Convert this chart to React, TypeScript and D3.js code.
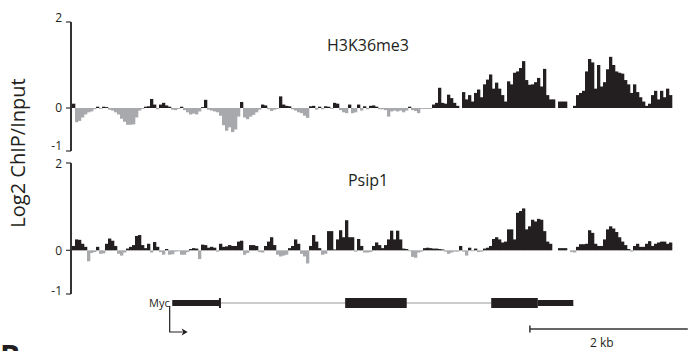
import React from "react";
import * as d3 from "d3";

// Log2 ChIP/Input, one value per genomic bin (200 bins across the locus)
const h3k36me3: number[] = [
  0.1, -0.33, -0.3, -0.22, -0.15, -0.1, -0.08, -0.03, 0.03, -0.02,
  0.03, 0.02, -0.04, -0.06, -0.1, -0.15, -0.25, -0.32, -0.39, -0.39,
  -0.38, -0.22, -0.06, -0.02, 0.03, 0.04, 0.21, 0.08, -0.03, 0.08,
  0.12, 0.06, 0.03, -0.04, -0.05, -0.02, 0.03, -0.05, -0.1, -0.15,
  -0.13, -0.15, -0.08, 0.02, 0.19, -0.04, -0.06, -0.08, -0.1, -0.18,
  -0.4, -0.53, -0.45, -0.56, -0.5, -0.2, 0.14, -0.22, -0.26, -0.2,
  -0.16, -0.1, -0.04, 0.08, 0.06, -0.03, -0.07, -0.04, -0.02, 0.27,
  0.08, 0.05, 0.04, -0.03, -0.06, -0.1, -0.12, -0.18, -0.23, 0.04,
  0.05, -0.04, 0.03, -0.03, 0.04, 0.03, -0.02, 0.12, 0.1, -0.05,
  -0.1, -0.12, 0.08, -0.12, -0.1, 0.08, -0.06, 0.04, -0.03, 0.05,
  0.06, 0.03, -0.03, -0.03, -0.05, -0.2, -0.08, -0.06, -0.08, -0.06,
  -0.1, -0.06, 0.03, -0.05, -0.07, -0.12, -0.02, -0.02, -0.02, -0.02,
  0.08, 0.12, 0.47, 0.12, 0.1, 0.31, 0.23, 0.12, 0.05, 0,
  0.37, 0.2, 0.3, 0.15, 0.35, 0.43, 0.25, 0.55, 0.66, 0.78,
  0.45, 0.59, 0.45, 0.3, 0.15, 0.62, 0.55, 0.82, 0.85, 0.93,
  1.09, 0.65, 0.54, 0.55, 0.6, 0.7, 0.5, 0.91, 0.3, 0.2,
  0.2, 0, 0.15, 0.15, 0.15, 0, 0, 0.05, 0.3, 0.35,
  0.4, 0.85, 1.14, 1.06, 0.45, 1.0, 0.5, 0.6, 0.9, 1.19,
  1.0, 0.85, 0.82, 0.8, 0.65, 0.55, 0.35, 0.55, 0.37, 0.25,
  0.15, 0.05, 0.1, 0.3, 0.4, 0.2, 0.4, 0.25, 0.45, 0.3,
];

const psip1: number[] = [
  0.1, 0.25, 0.24, 0.15, 0.08, -0.25, -0.06, -0.04, 0.08, -0.08,
  -0.07, 0.15, 0.27, 0.22, 0.1, -0.08, -0.12, -0.05, 0.04, 0.08,
  0.12, 0.33, 0.35, 0.12, 0.05, 0.15, -0.05, 0.19, 0.08, -0.04,
  -0.1, 0.03, -0.1, -0.09, -0.03, -0.02, -0.1, -0.1, -0.04, 0.03,
  0.05, 0.04, -0.2, 0.13, 0.12, 0.06, 0.08, 0.06, -0.03, 0.15,
  0.08, 0.09, 0.12, 0.1, 0.1, 0.2, 0.22, -0.1, -0.06, 0.12,
  0.12, 0.1, -0.04, -0.05, 0.1, 0.2, 0.3, 0.12, -0.1, -0.14,
  -0.12, -0.1, 0.05, 0.1, 0.25, 0.15, -0.08, -0.14, -0.3, 0.1,
  0.35, 0.2, 0.05, -0.1, -0.08, 0.44, 0.44, 0.02, 0.25, 0.46,
  0.3, 0.69, 0.3, 0.3, -0.03, 0.26, 0.1, -0.05, -0.05, -0.04,
  0.1, 0.18, 0.12, 0.05, 0.12, 0.25, 0.45, 0.25, 0.45, 0.25,
  0.04, 0.03, -0.02, -0.15, -0.17, -0.05, -0.03, 0.05, 0.06, 0.05,
  0.04, 0.04, 0.03, 0.02, -0.03, -0.08, -0.05, -0.03, -0.03, 0.1,
  -0.03, -0.12, 0.06, -0.02, 0.04, -0.04, -0.03, 0.04, 0.06, 0.1,
  0.26, 0.3, 0.25, 0.18, 0.2, 0.48, 0.48, 0.25, 0.86, 0.9,
  0.96, 0.48, 0.55, 0.7, 0.66, 0.72, 0.7, 0.44, 0.2, 0.15,
  0, 0, 0.05, 0.05, 0.05, 0, -0.04, -0.05, 0.08, 0.14,
  0.14, 0.15, 0.46, 0.4, 0.15, 0.1, 0.1, 0.25, 0.48, 0.55,
  0.5, 0.42, 0.3, 0.2, 0.12, 0.03, -0.03, 0.1, 0.15, 0.08,
  0.08, 0.15, 0.21, 0.1, 0.15, 0.18, 0.2, 0.2, 0.15, 0.18,
];

const trackNames = ["H3K36me3", "Psip1"];
const yTicks = [2, 0, -1];
const locusKb = 7.6;

// Myc gene model (kb from left edge of locus)
const intron = [1.27, 5.31];
const exons = [
  { start: 1.27, end: 1.88, kind: "utr" },
  { start: 3.46, end: 4.24, kind: "cds" },
  { start: 5.31, end: 5.9, kind: "cds" },
  { start: 5.9, end: 6.35, kind: "utr" },
];
const exon1CapKb = 1.88;
const tssKb = 1.25;
const scaleBar = { start: 5.8, length: 2, label: "2 kb" };

const POS = "#231f20";
const NEG = "#a7a9ac";
const FONT = "'Open Sans', 'Noto Sans', sans-serif";

export default function App() {
  const W = 688;
  const H = 351;
  const x = d3.scaleLinear().domain([0, locusKb]).range([72, 672]);
  const binKb = locusKb / h3k36me3.length;

  const tracks = [
    {
      name: trackNames[0],
      data: h3k36me3,
      y: d3.scaleLinear().domain([-1, 2]).range([151, 22]),
      titleY: 51,
      labelShift: { "2": -4.5, "0": 0, "-1": -5.5 } as Record<string, number>,
    },
    {
      name: trackNames[1],
      data: psip1,
      y: d3.scaleLinear().domain([-1, 2]).range([294, 163]),
      titleY: 186,
      labelShift: { "2": 1, "0": 0, "-1": -3 } as Record<string, number>,
    },
  ];

  const geneY = 303;

  return (
    <svg width={W} height={H} style={{ position: "absolute", left: 0, top: 0, background: "#fff" }}>
      <text
        transform={`translate(25, 153) rotate(-90)`}
        textAnchor="middle"
        fontFamily={FONT}
        fontSize={20}
        fill="#231f20"
      >
        Log2 ChIP/Input
      </text>

      {tracks.map((t) => {
        const y0 = t.y(0);
        return (
          <g key={t.name}>
            {t.data.map((v, i) => {
              if (v === 0) return null;
              const xa = x(i * binKb);
              const xb = x((i + 1) * binKb);
              const yv = t.y(v);
              return (
                <rect
                  key={i}
                  x={xa}
                  width={xb - xa + 0.3}
                  y={Math.min(yv, y0)}
                  height={Math.max(Math.abs(yv - y0), 0.9)}
                  fill={v > 0 ? POS : NEG}
                />
              );
            })}
            <line x1={71} x2={71} y1={t.y(2)} y2={t.y(-1)} stroke="#333" strokeWidth={2} />
            {yTicks.map((tk) => (
              <g key={tk}>
                <line x1={66} x2={71} y1={t.y(tk)} y2={t.y(tk)} stroke="#333" strokeWidth={1.2} />
                <text
                  x={62}
                  y={t.y(tk) + t.labelShift[String(tk)]}
                  dy="0.35em"
                  textAnchor="end"
                  fontFamily={FONT}
                  fontSize={12}
                  fill="#231f20"
                >
                  {tk}
                </text>
              </g>
            ))}
            <text x={368} y={t.titleY} textAnchor="middle" fontFamily={FONT} fontSize={16} fill="#231f20">
              {t.name}
            </text>
          </g>
        );
      })}

      {/* gene model */}
      <line x1={x(intron[0])} x2={x(intron[1])} y1={geneY} y2={geneY} stroke="#999" strokeWidth={1} />
      {exons.map((e, i) => {
        const h = e.kind === "cds" ? 10 : 6;
        return (
          <rect key={i} x={x(e.start)} width={x(e.end) - x(e.start)} y={geneY - h / 2} height={h} fill={POS} />
        );
      })}
      <rect x={x(exon1CapKb) - 1.5} width={2} y={geneY - 5} height={10} fill={POS} />
      <text x={x(tssKb) - 1} y={geneY + 4} textAnchor="end" fontFamily={FONT} fontSize={11} fill="#231f20">
        Myc
      </text>
      <path
        d={`M${x(tssKb) - 1},${geneY + 3} V${geneY + 29} H${x(tssKb) + 12}`}
        fill="none"
        stroke={POS}
        strokeWidth={1.2}
      />
      <path
        d={`M${x(tssKb) + 17},${geneY + 29} l-6,-3.5 l1.5,3.5 l-1.5,3.5 z`}
        fill={POS}
      />

      {/* scale bar */}
      <line
        x1={x(scaleBar.start)}
        x2={x(scaleBar.start + scaleBar.length)}
        y1={329}
        y2={329}
        stroke="#333"
        strokeWidth={1.3}
      />
      <line x1={x(scaleBar.start)} x2={x(scaleBar.start)} y1={325.5} y2={332.5} stroke="#333" strokeWidth={1.5} />
      <text
        x={x(scaleBar.start + scaleBar.length * 0.455)}
        y={347}
        textAnchor="middle"
        fontFamily={FONT}
        fontSize={12}
        fill="#231f20"
      >
        {scaleBar.label}
      </text>

      <text x={0} y={367} fontFamily={FONT} fontSize={30} fontWeight="bold" fill="#231f20">
        B
      </text>
    </svg>
  );
}
